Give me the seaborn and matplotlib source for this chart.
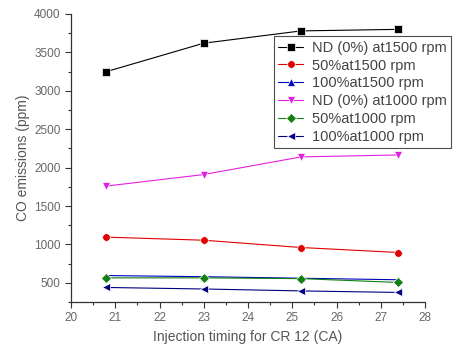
import matplotlib
matplotlib.use("Agg")
import matplotlib.pyplot as plt
import seaborn as sns
import pandas as pd
from matplotlib.ticker import MultipleLocator

timing = [20.8, 23.0, 25.2, 27.4]
series_names = ["ND (0%) at1500 rpm", "50%at1500 rpm", "100%at1500 rpm",
                "ND (0%) at1000 rpm", "50%at1000 rpm", "100%at1000 rpm"]
nd_1500 = [3250, 3620, 3780, 3800]
b50_1500 = [1095, 1055, 960, 895]
b100_1500 = [595, 580, 560, 540]
nd_1000 = [1760, 1910, 2140, 2165]
b50_1000 = [565, 565, 555, 505]
b100_1000 = [440, 420, 395, 375]
colors = ["#000000", "#e00000", "#0000c0", "#e020e0", "#108010", "#000080"]
markers = ["s", "o", "^", "v", "D", "<"]

values = [nd_1500, b50_1500, b100_1500, nd_1000, b50_1000, b100_1000]
rows = []
for name, vals in zip(series_names, values):
    for t, v in zip(timing, vals):
        rows.append({"timing": t, "co": v, "series": name})
df = pd.DataFrame(rows)

sns.set_style("ticks")
plt.rcParams['font.family'] = ['Liberation Sans', 'DejaVu Sans']

fig = plt.figure(figsize=(4.61, 3.5), dpi=100)
ax = fig.add_axes([0.154, 0.137, 0.768, 0.823])

sns.lineplot(data=df, x="timing", y="co", hue="series", style="series",
             hue_order=series_names, style_order=series_names,
             palette=dict(zip(series_names, colors)),
             markers=dict(zip(series_names, markers)),
             dashes=False, markersize=5.5, linewidth=0.8,
             markeredgewidth=0.5, ax=ax)

ax.set_xlim(20, 28)
ax.set_ylim(250, 4000)
ax.xaxis.set_major_locator(MultipleLocator(1))
ax.xaxis.set_minor_locator(MultipleLocator(0.5))
ax.set_yticks([500, 1000, 1500, 2000, 2500, 3000, 3500, 4000])
ax.yaxis.set_minor_locator(MultipleLocator(250))
sns.despine(ax=ax)
for s in ["left", "bottom"]:
    ax.spines[s].set_linewidth(0.9)
    ax.spines[s].set_color("#333333")
ax.tick_params(axis="both", which="major", direction="out", length=4,
               width=0.8, labelsize=8.5, labelcolor="#666666", color="#333333")
ax.tick_params(axis="both", which="minor", direction="out", length=2.5,
               width=0.8, color="#333333")
ax.set_xlabel("Injection timing for CR 12 (CA)", fontsize=10, color="#555555", labelpad=4)
ax.set_ylabel("CO emissions (ppm)", fontsize=10, color="#555555", labelpad=3)

leg = ax.legend(loc="upper left", bbox_to_anchor=(0.594, 0.896),
                bbox_transform=fig.transFigure, fontsize=10.5, frameon=True,
                fancybox=False, edgecolor="#222222", borderpad=0.3,
                labelspacing=0.26, handlelength=1.7, handletextpad=0.6,
                borderaxespad=0)
leg.get_frame().set_linewidth(0.8)
for t in leg.get_texts():
    t.set_color("#444444")

fig.savefig("out.png", dpi=100)
